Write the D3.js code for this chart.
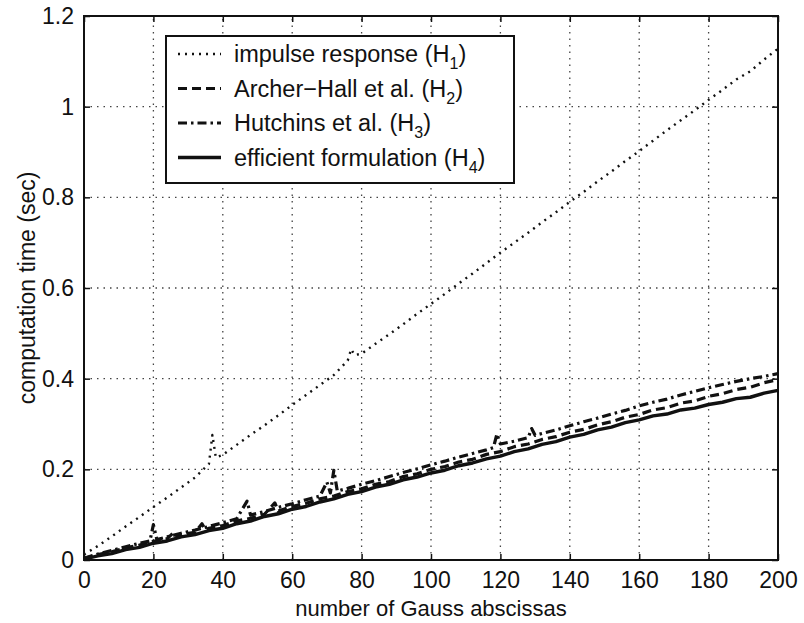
<!DOCTYPE html>
<html>
<head>
<meta charset="utf-8">
<script src="https://cdn.jsdelivr.net/npm/d3@7"></script>
<style>
  body { margin: 0; background: #fff; }
  svg text { font-family: "Liberation Sans", Arial, Helvetica, sans-serif; fill: #111; }
</style>
</head>
<body>
<div id="chart"></div>
<script>
// [number of Gauss abscissas, computation time (sec)]
var impulseH1 = [[0,0.012],[4,0.031],[8,0.052],[12,0.074],[16,0.095],[20,0.117],[24,0.138],[28,0.16],[32,0.182],[36,0.212],[37,0.276],[38,0.226],
  [40,0.232],[44,0.254],[48,0.276],[52,0.297],[56,0.319],[60,0.342],[64,0.364],[68,0.386],[72,0.408],[76,0.44],[77,0.465],[78,0.452],[80,0.455],
  [84,0.477],[88,0.498],[92,0.52],[96,0.543],[100,0.565],[104,0.587],[108,0.61],[112,0.632],[116,0.655],[120,0.678],[124,0.7],[128,0.722],[132,0.745],
  [136,0.767],[140,0.79],[144,0.812],[148,0.835],[152,0.857],[156,0.88],[160,0.902],[164,0.925],[168,0.948],[172,0.97],[176,0.992],[180,1.015],
  [184,1.037],[188,1.06],[192,1.078],[196,1.104],[200,1.128]];
var archerH2 = [[0,0.003],[4,0.012],[8,0.018],[12,0.027],[16,0.033],[20,0.041],[24,0.047],[26,0.062],[27,0.05],[28,0.056],[32,0.061],[34,0.08],[35,0.066],
  [36,0.07],[40,0.076],[44,0.086],[48,0.092],[52,0.101],[55,0.126],[56,0.108],[60,0.118],[64,0.125],[68,0.135],[72,0.141],[76,0.151],[80,0.157],
  [84,0.167],[88,0.173],[92,0.184],[96,0.19],[100,0.2],[104,0.206],[108,0.216],[112,0.222],[116,0.233],[120,0.239],[124,0.25],[128,0.256],[132,0.266],
  [136,0.272],[140,0.282],[144,0.288],[148,0.298],[152,0.305],[156,0.315],[160,0.321],[164,0.331],[168,0.336],[172,0.346],[176,0.351],[180,0.361],
  [184,0.367],[188,0.376],[192,0.381],[196,0.391],[200,0.398]];
var hutchinsH3 = [[0,0.004],[4,0.013],[8,0.021],[12,0.029],[16,0.037],[19,0.042],[20,0.078],[21,0.045],[24,0.051],[28,0.059],[32,0.066],[36,0.074],
  [40,0.082],[44,0.091],[47,0.13],[48,0.099],[52,0.107],[56,0.116],[60,0.124],[64,0.133],[68,0.141],[70,0.172],[71,0.148],[72,0.198],[73,0.152],
  [76,0.158],[80,0.167],[84,0.175],[88,0.184],[92,0.193],[96,0.201],[100,0.21],[104,0.218],[108,0.227],[112,0.235],[116,0.243],[118,0.248],[119,0.278],
  [120,0.256],[124,0.262],[128,0.27],[129,0.29],[130,0.275],[132,0.279],[136,0.287],[140,0.296],[144,0.305],[148,0.313],[152,0.322],[156,0.33],
  [160,0.34],[164,0.348],[168,0.355],[172,0.364],[176,0.372],[180,0.38],[184,0.387],[188,0.394],[192,0.4],[196,0.405],[200,0.411]];
var efficientH4 = [[0,0.002],[4,0.009],[8,0.014],[12,0.023],[16,0.028],[20,0.037],[24,0.042],[28,0.051],[32,0.056],[36,0.065],[40,0.07],[44,0.08],
  [48,0.086],[52,0.096],[56,0.102],[60,0.112],[64,0.118],[68,0.128],[72,0.135],[76,0.145],[80,0.151],[84,0.161],[88,0.167],[92,0.177],[96,0.183],
  [100,0.192],[104,0.198],[108,0.208],[112,0.214],[116,0.223],[120,0.229],[124,0.239],[128,0.245],[132,0.255],[136,0.261],[140,0.271],[144,0.277],
  [148,0.287],[152,0.293],[156,0.303],[160,0.309],[164,0.318],[168,0.322],[172,0.331],[176,0.335],[180,0.343],[184,0.348],[188,0.356],[192,0.359],
  [196,0.368],[200,0.374]];

var xTicks = [0, 20, 40, 60, 80, 100, 120, 140, 160, 180, 200];
var yTicks = [0, 0.2, 0.4, 0.6, 0.8, 1, 1.2];
var legendNames = ["impulse response (H", "Archer\u2212Hall et al. (H", "Hutchins et al. (H", "efficient formulation (H"];
var legendSubs = ["1", "2", "3", "4"];

var width = 804, height = 623;
var margin = {top: 16, right: 26, bottom: 63, left: 84};

var svg = d3.select("#chart").append("svg")
    .attr("width", width)
    .attr("height", height);

var x = d3.scaleLinear().domain([0, 200]).range([margin.left, width - margin.right]);
var y = d3.scaleLinear().domain([0, 1.2]).range([height - margin.bottom, margin.top]);

// grid
var grid = svg.append("g").attr("class", "grid")
    .attr("stroke", "#444").attr("stroke-width", 1.3).attr("stroke-dasharray", "1.5,5");
grid.selectAll(".gx").data(xTicks.slice(1, -1)).enter().append("line")
    .attr("x1", d => x(d)).attr("x2", d => x(d))
    .attr("y1", y(0)).attr("y2", y(1.2));
grid.selectAll(".gy").data(yTicks.slice(1, -1)).enter().append("line")
    .attr("y1", d => y(d)).attr("y2", d => y(d))
    .attr("x1", x(0)).attr("x2", x(200));

// axes, ticks pointing inward like matlab
var fmt = d => String(d);
svg.append("g").attr("transform", "translate(0," + y(0) + ")")
    .call(d3.axisBottom(x).tickValues(xTicks).tickFormat(fmt).tickSizeInner(-6).tickSizeOuter(0).tickPadding(12))
    .call(g => g.selectAll("text").attr("font-size", 23));
svg.append("g").attr("transform", "translate(0," + y(1.2) + ")")
    .call(d3.axisTop(x).tickValues(xTicks).tickFormat("").tickSizeInner(-6).tickSizeOuter(0));
svg.append("g").attr("transform", "translate(" + x(0) + ",0)")
    .call(d3.axisLeft(y).tickValues(yTicks).tickFormat(fmt).tickSizeInner(-6).tickSizeOuter(0).tickPadding(10))
    .call(g => g.selectAll("text").attr("font-size", 23));
svg.append("g").attr("transform", "translate(" + x(200) + ",0)")
    .call(d3.axisRight(y).tickValues(yTicks).tickFormat("").tickSizeInner(-6).tickSizeOuter(0));
svg.selectAll(".domain").remove();
svg.selectAll(".tick line").attr("stroke", "#111").attr("stroke-width", 1.5);

svg.append("rect")
    .attr("x", x(0)).attr("y", y(1.2))
    .attr("width", x(200) - x(0)).attr("height", y(0) - y(1.2))
    .attr("fill", "none").attr("stroke", "#111").attr("stroke-width", 2);

// series
var line = d3.line().x(d => x(d[0])).y(d => y(d[1]));
var series = [
  {data: impulseH1, dash: "2,5", w: 2.4},
  {data: archerH2, dash: "9,5", w: 3.2},
  {data: hutchinsH3, dash: "9,4,2.5,4", w: 3.2},
  {data: efficientH4, dash: null, w: 3.4}
];
svg.append("g").selectAll("path").data(series).enter().append("path")
    .attr("d", d => line(d.data))
    .attr("fill", "none")
    .attr("stroke", "#111")
    .attr("stroke-width", d => d.w)
    .attr("stroke-dasharray", d => d.dash)
    .attr("stroke-linejoin", "round");

// axis labels
svg.append("text")
    .attr("x", (x(0) + x(200)) / 2).attr("y", 616)
    .attr("text-anchor", "middle").attr("font-size", 22)
    .text("number of Gauss abscissas");
svg.append("text")
    .attr("transform", "translate(35," + ((y(0) + y(1.2)) / 2) + ") rotate(-90)")
    .attr("text-anchor", "middle").attr("font-size", 23)
    .text("computation time (sec)");

// legend
var lg = svg.append("g").attr("transform", "translate(166,36)");
lg.append("rect").attr("width", 348).attr("height", 147)
    .attr("fill", "#fff").attr("stroke", "#111").attr("stroke-width", 2);
var rows = lg.selectAll(".row").data(series).enter().append("g")
    .attr("transform", (d, i) => "translate(0," + (18 + i * 34.5) + ")");
rows.append("line")
    .attr("x1", 12).attr("x2", 55).attr("y1", 0).attr("y2", 0)
    .attr("stroke", "#111")
    .attr("stroke-width", d => d.w)
    .attr("stroke-dasharray", d => d.dash);
var lt = rows.append("text").attr("x", 68).attr("y", 8).attr("font-size", 23.5);
lt.append("tspan").text((d, i) => legendNames[i]);
lt.append("tspan").attr("font-size", 16).attr("dy", 7).text((d, i) => legendSubs[i]);
lt.append("tspan").attr("dy", -7).text(")");
</script>
</body>
</html>
